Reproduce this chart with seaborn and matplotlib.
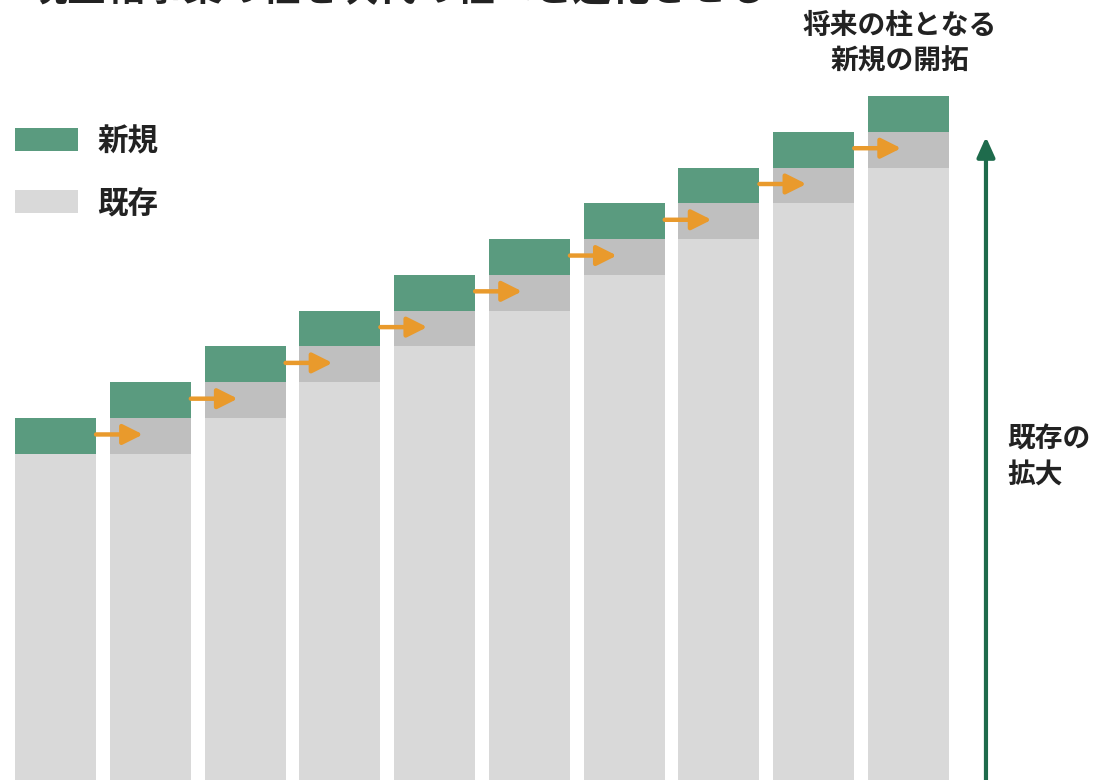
import matplotlib
matplotlib.use("Agg")
import matplotlib.pyplot as plt
from matplotlib.patches import Patch
import seaborn as sns
import pandas as pd

# ---- data (units: one "step" = one block) ----
periods = list(range(1, 11))
existing_base = [9, 9, 10, 11, 12, 13, 14, 15, 16, 17]   # light grey
carried_over = [0, 1, 1, 1, 1, 1, 1, 1, 1, 1]            # dark grey (last new block)
new_block = [1, 1, 1, 1, 1, 1, 1, 1, 1, 1]               # green
legend_labels = ["新規", "既存"]
title_text = "現主軸事業の柱を次代の柱へと進化させる"
top_label = "将来の柱となる\n新規の開拓"
side_label = "既存の\n拡大"

GREEN = "#5A9B7F"
LIGHT = "#D9D9D9"
DARK = "#BFBFBF"
ORANGE = "#E99A2C"
DKGREEN = "#1E6B4C"

sns.set_theme(style="white")
plt.rcParams["font.family"] = ["Noto Sans CJK JP", "DejaVu Sans"]

df = pd.DataFrame({
    "period": [str(p) for p in periods],
    "base": existing_base,
    "existing": [b + c for b, c in zip(existing_base, carried_over)],
})
df["total"] = df["existing"] + new_block

fig = plt.figure(figsize=(10.97, 7.80), dpi=100)
s = 35.78          # pixels per unit
zero_px = 775.8    # pixel row of value 0 (from top)
ax = fig.add_axes([0, (780 - zero_px) / 780, 1, zero_px / 780])

W = 0.855
sns.barplot(data=df, x="period", y="total", color=GREEN, width=W, ax=ax,
            saturation=1, linewidth=0, zorder=1)
sns.barplot(data=df, x="period", y="existing", color=DARK, width=W, ax=ax,
            saturation=1, linewidth=0, zorder=2)
sns.barplot(data=df, x="period", y="base", color=LIGHT, width=W, ax=ax,
            saturation=1, linewidth=0, zorder=3)

ax.set_ylim(0, zero_px / s)
ax.set_xlim(-0.586, 10.989)
ax.axis("off")
for p in ax.patches:
    p.set_clip_on(False)
    # extend bars down past the figure edge
    p.set_y(-0.5)
    p.set_height(p.get_height() + 0.5)

# orange arrows: from each bar's new block into the next bar
for i in range(len(periods) - 1):
    y = df["existing"][i] + new_block[i] / 2 + 0.04
    x0 = i + W / 2
    x1 = i + 1 - W / 2 + 0.35
    ax.annotate("", xy=(x1, y), xytext=(x0, y),
                arrowprops=dict(arrowstyle="-|>,head_length=1.0,head_width=0.5",
                                color=ORANGE, lw=3.2, shrinkA=0, shrinkB=0),
                zorder=5, annotation_clip=False)

# green vertical arrow (expansion of existing)
xa = (986 - 55.5) / 94.78
ax.annotate("", xy=(xa, (zero_px - 137) / s), xytext=(xa, -1),
            arrowprops=dict(arrowstyle="-|>,head_length=1.0,head_width=0.45",
                            color=DKGREEN, lw=3, shrinkA=0, shrinkB=0),
            zorder=5, annotation_clip=False)

fig.text(1007 / 1097, 1 - 457 / 780, side_label,
         ha="left", va="center", fontsize=20, fontweight="bold",
         color="#222222", linespacing=1.3)

fig.text(900 / 1097, 1 - 44 / 780, top_label, ha="center", va="center",
         fontsize=20, fontweight="bold", color="#222222", linespacing=1.32)

fig.text(28 / 1097, 1 - 9 / 780, title_text, ha="left", va="bottom",
         fontsize=28, fontweight="bold", color="#222222")

handles = [Patch(facecolor=GREEN, edgecolor="none"),
           Patch(facecolor=LIGHT, edgecolor="none")]
leg = fig.legend(handles, legend_labels, loc="upper left",
                 bbox_to_anchor=(15 / 1097, 1 - 125 / 780), frameon=False,
                 prop={"size": 22, "weight": "bold"}, handlelength=2.05,
                 handleheight=0.78, labelspacing=1.0, handletextpad=0.65,
                 borderaxespad=0, borderpad=0)
for t in leg.get_texts():
    t.set_color("#222222")

fig.savefig("out.png", dpi=100)
